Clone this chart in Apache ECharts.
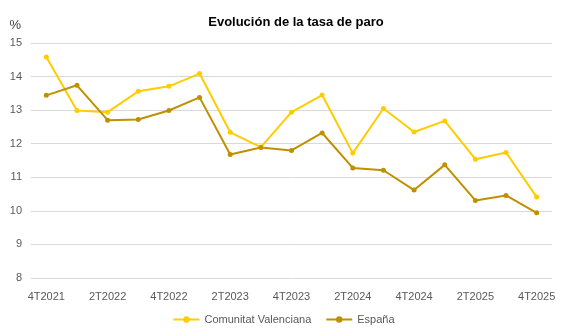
<!DOCTYPE html>
<html>
<head>
<meta charset="utf-8">
<script src="https://cdn.jsdelivr.net/npm/echarts@6/dist/echarts.min.js"></script>
<style>
  html, body { margin: 0; padding: 0; background: #ffffff; }
  #chart { width: 567px; height: 333px; }
</style>
</head>
<body>
<div id="chart"></div>
<script>
// Quarterly periods
const quarters = ['4T2021', '1T2022', '2T2022', '3T2022', '4T2022', '1T2023', '2T2023', '3T2023', '4T2023',
  '1T2024', '2T2024', '3T2024', '4T2024', '1T2025', '2T2025', '3T2025', '4T2025'];

// Unemployment rate (%)
const comunitatValenciana = [14.58, 12.99, 12.94, 13.56, 13.71, 14.09, 12.34, 11.90, 12.94,
  13.45, 11.72, 13.05, 12.35, 12.68, 11.54, 11.74, 10.41];
const espana = [13.44, 13.74, 12.70, 12.72, 12.99, 13.38, 11.68, 11.89, 11.80,
  12.32, 11.28, 11.21, 10.62, 11.37, 10.31, 10.46, 9.94];

const FONT = '"Liberation Sans", "DejaVu Sans", sans-serif';

const chart = echarts.init(document.getElementById('chart'), null, { renderer: 'canvas' });

chart.setOption({
  animation: false,
  backgroundColor: '#ffffff',
  title: {
    text: 'Evolución de la tasa de paro',
    left: 291,
    textAlign: 'center',
    top: 11,
    textStyle: { fontFamily: FONT, fontSize: 13, fontWeight: 'bold', color: '#000000' }
  },
  grid: { left: 31, right: 15, top: 43, bottom: 55, containLabel: false },
  legend: {
    bottom: 3,
    left: 'center',
    itemWidth: 26,
    itemHeight: 8,
    itemGap: 14,
    textStyle: { fontFamily: FONT, fontSize: 11, color: '#595959' },
    data: ['Comunitat Valenciana', 'España']
  },
  xAxis: {
    type: 'category',
    data: quarters,
    boundaryGap: true,
    axisLine: { show: false },
    axisTick: { show: false },
    axisLabel: { interval: 1, fontFamily: FONT, fontSize: 11, color: '#595959', margin: 13 }
  },
  yAxis: {
    type: 'value',
    min: 8,
    max: 15,
    interval: 1,
    name: '%',
    nameLocation: 'end',
    nameGap: 11,
    nameTextStyle: { fontFamily: FONT, fontSize: 13, color: '#404040', align: 'right', padding: [0, 10, 0, 0] },
    axisLine: { show: false },
    axisTick: { show: false },
    axisLabel: { fontFamily: FONT, fontSize: 11, color: '#595959', margin: 9 },
    splitLine: { lineStyle: { color: '#d9d9d9', width: 1 } }
  },
  series: [
    {
      name: 'Comunitat Valenciana',
      type: 'line',
      data: comunitatValenciana,
      color: '#FFCC00',
      symbol: 'circle',
      symbolSize: 5,
      lineStyle: { width: 2, color: '#FFCC00' },
      itemStyle: { color: '#FFCC00' }
    },
    {
      name: 'España',
      type: 'line',
      data: espana,
      color: '#BF9000',
      symbol: 'circle',
      symbolSize: 5,
      lineStyle: { width: 2, color: '#BF9000' },
      itemStyle: { color: '#BF9000' }
    }
  ]
});
</script>
</body>
</html>
